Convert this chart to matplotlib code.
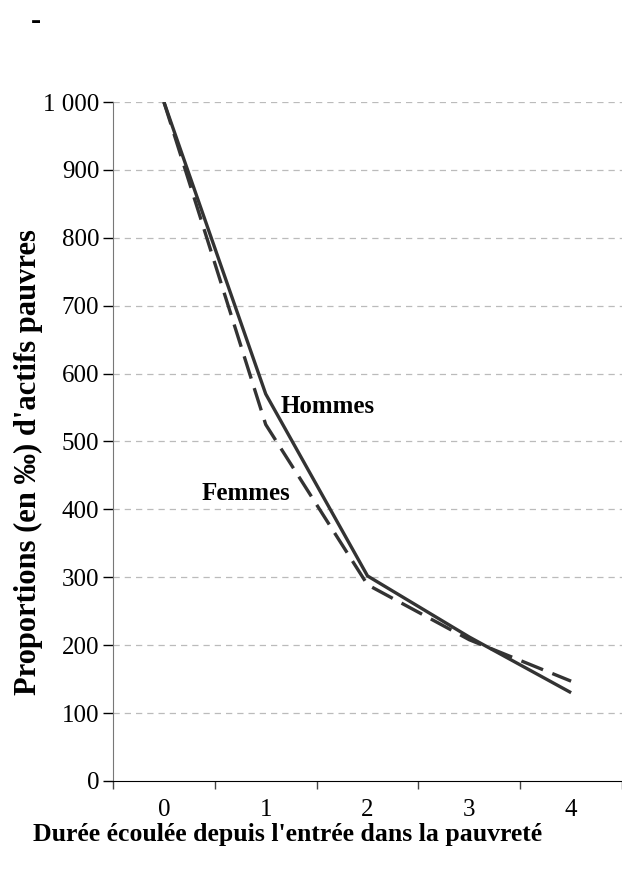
import matplotlib.pyplot as plt
import numpy as np

# Données
durees = ['0', '1', '2', '3', '4']
hommes = [1000, 570, 302, 212, 130]
femmes = [1000, 525, 289, 208, 147]
yticks = [0, 100, 200, 300, 400, 500, 600, 700, 800, 900, 1000]
ylabels = ['0', '100', '200', '300', '400', '500', '600', '700', '800', '900', '1 000']

plt.rcParams['font.family'] = ['Liberation Serif', 'DejaVu Serif']

fig = plt.figure(figsize=(6.22, 8.69), dpi=100)
ax = fig.add_axes([0.1817, 0.1013, 0.8183, 0.7813])

x = np.arange(len(durees))
ax.plot(x, hommes, color='#333333', lw=2.4, solid_capstyle='butt')
ax.plot(x, femmes, color='#333333', lw=2.4, dashes=(7, 3))

ax.set_xlim(-0.5, 4.5)
ax.set_ylim(0, 1000)

ax.set_yticks(yticks)
ax.set_yticklabels(ylabels, fontsize=18)
ax.set_xticks(x)
ax.set_xticklabels(durees, fontsize=18)
ax.set_xticks(np.arange(-0.5, 5, 1), minor=True)
ax.tick_params(axis='x', which='major', length=0, pad=13)
ax.tick_params(axis='x', which='minor', length=6, width=1, color='#444444', direction='out')
ax.tick_params(axis='y', length=7, width=1, direction='out', pad=3)

for y in yticks[1:]:
    ax.axhline(y, color='#bbbbbb', lw=0.9, dashes=(5, 4), zorder=0)

for s in ['top', 'right']:
    ax.spines[s].set_visible(False)
ax.spines['left'].set_color('#777777')
ax.spines['bottom'].set_color('black')

ax.text(1.15, 551, 'Hommes', fontsize=18, fontweight='bold', va='center', ha='left')
ax.text(0.37, 424, 'Femmes', fontsize=18, fontweight='bold', va='center', ha='left')

ax.set_xlabel("Durée écoulée depuis l'entrée dans la pauvreté", fontsize=18.5,
              fontweight='bold')
ax.xaxis.set_label_coords(0.343, -0.062)
ax.set_ylabel("Proportions (en ‰) d'actifs pauvres", fontsize=22,
              fontweight='bold', va='center')
ax.yaxis.set_label_coords(-0.167, 0.47)

fig.text(0.058, 0.975, '-', fontsize=22, fontweight='bold', ha='center', va='center')

fig.savefig('out.png', dpi=100)
